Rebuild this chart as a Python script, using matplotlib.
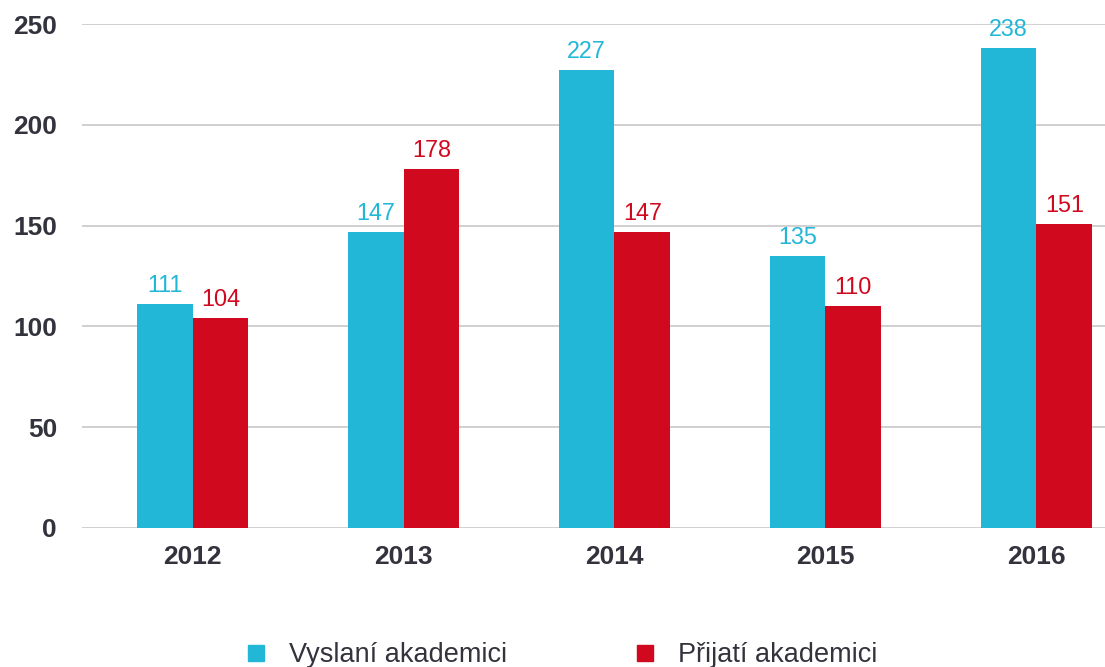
import numpy as np
import matplotlib.pyplot as plt
from matplotlib.lines import Line2D

# data
years = ['2012', '2013', '2014', '2015', '2016']
vyslani = [111, 147, 227, 135, 238]
prijati = [104, 178, 147, 110, 151]

blue = '#23b7d7'
red = '#d0091f'
textcol = '#33333d'

plt.rcParams['font.family'] = ['Liberation Sans', 'DejaVu Sans']

fig = plt.figure(figsize=(11.05, 6.67), dpi=100)
ax = fig.add_axes([0.0742, 0.2084, 0.9258, 0.7556])

x = np.arange(len(years))
w = 0.265
b1 = ax.bar(x - w / 2, vyslani, w, color=blue, zorder=3)
b2 = ax.bar(x + w / 2, prijati, w, color=red, zorder=3)

# value labels
for bars, vals, c in [(b1, vyslani, blue), (b2, prijati, red)]:
    for r, v in zip(bars, vals):
        ax.annotate(str(v), (r.get_x() + r.get_width() / 2, v),
                    xytext=(0, 5), textcoords='offset points',
                    ha='center', va='bottom', fontsize=16.8, color=c)

ax.set_ylim(0, 250)
ax.set_xlim(-0.524, 4.325)
ax.set_yticks([0, 50, 100, 150, 200, 250])
ax.set_xticks(x)
ax.set_xticklabels(years)
ax.grid(axis='y', color='#c4c4c4', linewidth=1.1, zorder=0)
for s in ax.spines.values():
    s.set_visible(False)
ax.tick_params(length=0, labelsize=19, labelcolor=textcol, pad=12)
ax.tick_params(axis='y', pad=18)
for lab in ax.get_xticklabels() + ax.get_yticklabels():
    lab.set_fontweight('bold')

# legend
handles = [Line2D([], [], marker='s', linestyle='none', markersize=11, color=blue),
           Line2D([], [], marker='s', linestyle='none', markersize=11, color=red)]
leg = fig.legend(handles, ['Vyslaní akademici', 'Přijatí akademici'],
                 loc='center', bbox_to_anchor=(0.508, 0.018), ncol=2,
                 frameon=False, fontsize=19.5, columnspacing=4.7,
                 handlelength=0.8, handletextpad=0.8, labelcolor=textcol)

fig.savefig('out.png', dpi=100)
